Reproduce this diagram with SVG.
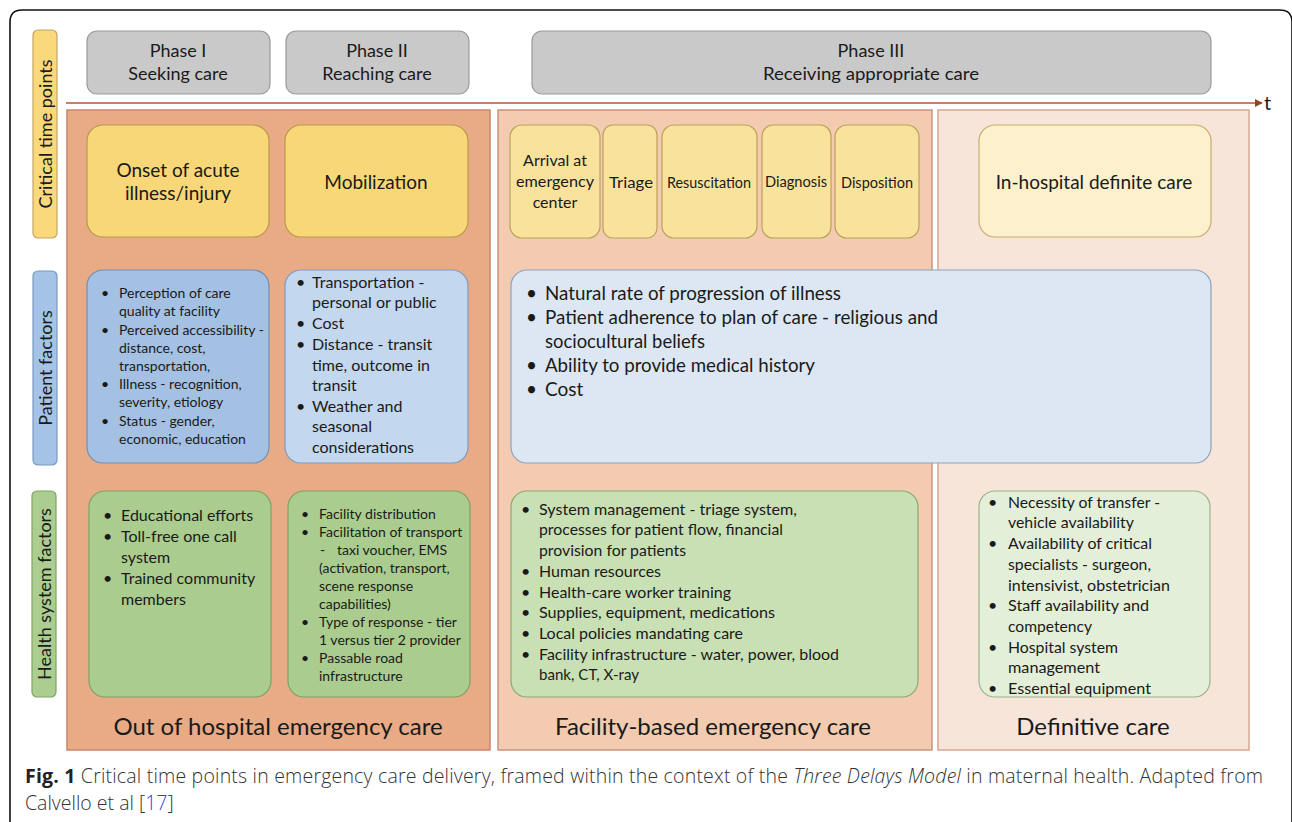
<svg xmlns="http://www.w3.org/2000/svg" width="1292" height="822" viewBox="0 0 1292 822">
  <style>
    .t { font-family: Lato, "Liberation Sans", sans-serif; fill: #1a1a1a; }
    .c { text-anchor: middle; }
    .phase { fill: #c9c9c9; stroke: #9a9a9a; stroke-width: 1.2; }
    .yel { fill: #f8d778; stroke: #b99a4a; stroke-width: 1.2; }
    .yel2 { fill: #f9e29c; stroke: #bca15a; stroke-width: 1.2; }
    .yel3 { fill: #fdf0cc; stroke: #c6ad6c; stroke-width: 1.2; }
    .blue1 { fill: #a4c1e3; stroke: #6f8fb5; stroke-width: 1.2; }
    .blue2 { fill: #c3d7ee; stroke: #7d9cc2; stroke-width: 1.2; }
    .blue3 { fill: #dce7f3; stroke: #8aa3c2; stroke-width: 1.2; }
    .grn1 { fill: #aacd8f; stroke: #7da264; stroke-width: 1.2; }
    .grn2 { fill: #c8e0b4; stroke: #88aa70; stroke-width: 1.2; }
    .grn3 { fill: #e3efd9; stroke: #9ab488; stroke-width: 1.2; }
    .cap { font-family: "Open Sans", "Liberation Sans", sans-serif; font-size: 19.5px; fill: #333; font-weight: 300; }
  </style>
  <defs>
    <marker id="arrow" viewBox="0 0 10 10" refX="9" refY="5" markerWidth="4" markerHeight="4" orient="auto">
      <path d="M0,0 L10,5 L0,10 z" fill="#8a4a2a"/>
    </marker>
  </defs>

  <rect width="1292" height="822" fill="#ffffff"/>
  <!-- figure frame -->
  <path d="M10,840 L10,22 Q10,10 22,10 L1280,10 Q1292,10 1292,22 L1292,840" fill="none" stroke="#111" stroke-width="1.6"/>

  <!-- column backgrounds -->
  <g id="col-out-of-hospital">
    <rect x="67" y="110" width="423" height="640" fill="#e9ab85" stroke="#c8876a" stroke-width="1.5"/>
    <text class="t c" x="278" y="735" font-size="24">Out of hospital emergency care</text>
  </g>
  <g id="col-facility">
    <rect x="498" y="110" width="434" height="640" fill="#f2cbb0" stroke="#c99478" stroke-width="1.5"/>
    <text class="t c" x="713" y="735" font-size="24">Facility-based emergency care</text>
  </g>
  <g id="col-definitive">
    <rect x="938" y="110" width="311" height="640" fill="#f8e5d9" stroke="#d4a88f" stroke-width="1.5"/>
    <text class="t c" x="1093" y="735" font-size="24">Definitive care</text>
  </g>

  <!-- row labels -->
  <g id="label-critical">
    <rect x="33" y="30" width="24" height="208" rx="5" fill="#f9d97b" stroke="#c4a560" stroke-width="1.2"/>
    <text class="t c" transform="translate(52,134) rotate(-90)" font-size="18">Critical time points</text>
  </g>
  <g id="label-patient">
    <rect x="33" y="271" width="24" height="194" rx="5" fill="#a5c3e6" stroke="#7898c0" stroke-width="1.2"/>
    <text class="t c" transform="translate(52,368) rotate(-90)" font-size="18">Patient factors</text>
  </g>
  <g id="label-health">
    <rect x="32" y="491" width="24" height="206" rx="5" fill="#abcd8f" stroke="#7fa566" stroke-width="1.2"/>
    <text class="t c" transform="translate(51,594) rotate(-90)" font-size="18">Health system factors</text>
  </g>

  <!-- phases -->
  <g id="phase-1">
    <rect class="phase" x="87" y="31" width="183" height="63" rx="10"/>
    <text class="t c" x="178" y="57" font-size="18">Phase I</text>
    <text class="t c" x="178" y="80" font-size="18">Seeking care</text>
  </g>
  <g id="phase-2">
    <rect class="phase" x="286" y="31" width="183" height="63" rx="10"/>
    <text class="t c" x="377" y="57" font-size="18">Phase II</text>
    <text class="t c" x="377" y="80" font-size="18">Reaching care</text>
  </g>
  <g id="phase-3">
    <rect class="phase" x="532" y="31" width="679" height="63" rx="10"/>
    <text class="t c" x="871" y="57" font-size="18">Phase III</text>
    <text class="t c" x="871" y="80" font-size="18" textLength="216" lengthAdjust="spacingAndGlyphs">Receiving appropriate care</text>
  </g>

  <!-- time axis -->
  <g id="connectors">
    <line x1="66" y1="103" x2="1262" y2="103" stroke="#c9805e" stroke-width="2" marker-end="url(#arrow)"/>
  </g>
  <text class="t" x="1264" y="110" font-size="20">t</text>

  <!-- critical time points -->
  <g id="onset">
    <rect class="yel" x="87" y="125" width="182" height="112" rx="16"/>
    <text class="t c" x="178" y="177" font-size="19">Onset of acute</text>
    <text class="t c" x="178" y="200" font-size="19">illness/injury</text>
  </g>
  <g id="mobilization">
    <rect class="yel" x="285" y="125" width="183" height="112" rx="16"/>
    <text class="t c" x="376" y="189" font-size="19">Mobilization</text>
  </g>
  <g id="arrival">
    <rect class="yel2" x="510" y="125" width="90" height="113" rx="12"/>
    <text class="t c" x="555" y="166" font-size="16">Arrival at</text>
    <text class="t c" x="555" y="187" font-size="16" textLength="78" lengthAdjust="spacingAndGlyphs">emergency</text>
    <text class="t c" x="555" y="208" font-size="16">center</text>
  </g>
  <g id="triage">
    <rect class="yel2" x="603" y="125" width="54" height="113" rx="10"/>
    <text class="t c" x="631" y="188" font-size="15.5" textLength="44" lengthAdjust="spacingAndGlyphs">Triage</text>
  </g>
  <g id="resuscitation">
    <rect class="yel2" x="662" y="125" width="95" height="113" rx="12"/>
    <text class="t c" x="709" y="188" font-size="15.5" textLength="84" lengthAdjust="spacingAndGlyphs">Resuscitation</text>
  </g>
  <g id="diagnosis">
    <rect class="yel2" x="762" y="125" width="69" height="113" rx="11"/>
    <text class="t c" x="796" y="187" font-size="15.5" textLength="62" lengthAdjust="spacingAndGlyphs">Diagnosis</text>
  </g>
  <g id="disposition">
    <rect class="yel2" x="835" y="125" width="84" height="113" rx="12"/>
    <text class="t c" x="877" y="188" font-size="15.5" textLength="72" lengthAdjust="spacingAndGlyphs">Disposition</text>
  </g>
  <g id="in-hospital">
    <rect class="yel3" x="979" y="125" width="232" height="112" rx="16"/>
    <text class="t c" x="1094" y="189" font-size="19">In-hospital definite care</text>
  </g>

  <!-- patient factors -->
  <g id="patient-seeking" font-size="14">
    <rect class="blue1" x="87" y="270" width="182" height="193" rx="16"/>
    <g class="t">
      <text x="101" y="298">•</text><text x="119" y="298">Perception of care</text>
      <text x="119" y="316">quality at facility</text>
      <text x="101" y="335">•</text><text x="119" y="335">Perceived accessibility -</text>
      <text x="119" y="353">distance, cost,</text>
      <text x="119" y="371">transportation,</text>
      <text x="101" y="389">•</text><text x="119" y="389">Illness - recognition,</text>
      <text x="119" y="407">severity, etiology</text>
      <text x="101" y="426">•</text><text x="119" y="426">Status - gender,</text>
      <text x="119" y="444">economic, education</text>
    </g>
  </g>
  <g id="patient-reaching" font-size="16">
    <rect class="blue2" x="285" y="270" width="183" height="193" rx="16"/>
    <g class="t">
      <text x="296" y="288">•</text><text x="312" y="288">Transportation -</text>
      <text x="312" y="308">personal or public</text>
      <text x="296" y="329">•</text><text x="312" y="329">Cost</text>
      <text x="296" y="350">•</text><text x="312" y="350">Distance - transit</text>
      <text x="312" y="371">time, outcome in</text>
      <text x="312" y="391">transit</text>
      <text x="296" y="412">•</text><text x="312" y="412">Weather and</text>
      <text x="312" y="432">seasonal</text>
      <text x="312" y="453">considerations</text>
    </g>
  </g>
  <g id="patient-receiving" font-size="19">
    <rect class="blue3" x="511" y="270" width="700" height="193" rx="16"/>
    <g class="t">
      <text x="526" y="300">•</text><text x="545" y="300" textLength="296" lengthAdjust="spacingAndGlyphs">Natural rate of progression of illness</text>
      <text x="526" y="324">•</text><text x="545" y="324" textLength="393" lengthAdjust="spacingAndGlyphs">Patient adherence to plan of care - religious and</text>
      <text x="545" y="348" textLength="160" lengthAdjust="spacingAndGlyphs">sociocultural beliefs</text>
      <text x="526" y="372">•</text><text x="545" y="372" textLength="270" lengthAdjust="spacingAndGlyphs">Ability to provide medical history</text>
      <text x="526" y="396">•</text><text x="545" y="396">Cost</text>
    </g>
  </g>

  <!-- health system factors -->
  <g id="health-seeking" font-size="16">
    <rect class="grn1" x="89" y="491" width="182" height="206" rx="16"/>
    <g class="t">
      <text x="103" y="521">•</text><text x="121" y="521">Educational efforts</text>
      <text x="103" y="542">•</text><text x="121" y="542">Toll-free one call</text>
      <text x="121" y="563">system</text>
      <text x="103" y="584">•</text><text x="121" y="584">Trained community</text>
      <text x="121" y="605">members</text>
    </g>
  </g>
  <g id="health-reaching" font-size="14">
    <rect class="grn1" x="288" y="491" width="182" height="206" rx="16"/>
    <g class="t">
      <text x="301" y="519">•</text><text x="319" y="519">Facility distribution</text>
      <text x="301" y="537">•</text><text x="319" y="537">Facilitation of transport</text>
      <text x="320" y="555">-</text><text x="337" y="555">taxi voucher, EMS</text>
      <text x="319" y="573">(activation, transport,</text>
      <text x="319" y="591">scene response</text>
      <text x="319" y="609">capabilities)</text>
      <text x="301" y="627">•</text><text x="319" y="627">Type of response - tier</text>
      <text x="319" y="645">1 versus tier 2 provider</text>
      <text x="301" y="663">•</text><text x="319" y="663">Passable road</text>
      <text x="319" y="681">infrastructure</text>
    </g>
  </g>
  <g id="health-receiving" font-size="16">
    <rect class="grn2" x="511" y="491" width="407" height="206" rx="16"/>
    <g class="t">
      <text x="521" y="515">•</text><text x="539" y="515" textLength="258" lengthAdjust="spacingAndGlyphs">System management - triage system,</text>
      <text x="539" y="535" textLength="244" lengthAdjust="spacingAndGlyphs">processes for patient flow, financial</text>
      <text x="539" y="556" textLength="147" lengthAdjust="spacingAndGlyphs">provision for patients</text>
      <text x="521" y="577">•</text><text x="539" y="577" textLength="122" lengthAdjust="spacingAndGlyphs">Human resources</text>
      <text x="521" y="598">•</text><text x="539" y="598" textLength="192" lengthAdjust="spacingAndGlyphs">Health-care worker training</text>
      <text x="521" y="618">•</text><text x="539" y="618" textLength="236" lengthAdjust="spacingAndGlyphs">Supplies, equipment, medications</text>
      <text x="521" y="639">•</text><text x="539" y="639" textLength="204" lengthAdjust="spacingAndGlyphs">Local policies mandating care</text>
      <text x="521" y="660">•</text><text x="539" y="660" textLength="300" lengthAdjust="spacingAndGlyphs">Facility infrastructure - water, power, blood</text>
      <text x="539" y="680" textLength="100" lengthAdjust="spacingAndGlyphs">bank, CT, X-ray</text>
    </g>
  </g>
  <g id="health-definitive" font-size="16">
    <rect class="grn3" x="979" y="491" width="231" height="206" rx="16"/>
    <g class="t">
      <text x="988" y="508">•</text><text x="1008" y="508" textLength="152" lengthAdjust="spacingAndGlyphs">Necessity of transfer -</text>
      <text x="1008" y="528" textLength="126" lengthAdjust="spacingAndGlyphs">vehicle availability</text>
      <text x="988" y="549">•</text><text x="1008" y="549" textLength="144" lengthAdjust="spacingAndGlyphs">Availability of critical</text>
      <text x="1008" y="570" textLength="143" lengthAdjust="spacingAndGlyphs">specialists - surgeon,</text>
      <text x="1008" y="591" textLength="162" lengthAdjust="spacingAndGlyphs">intensivist, obstetrician</text>
      <text x="988" y="611">•</text><text x="1008" y="611" textLength="141" lengthAdjust="spacingAndGlyphs">Staff availability and</text>
      <text x="1008" y="632" textLength="84" lengthAdjust="spacingAndGlyphs">competency</text>
      <text x="988" y="653">•</text><text x="1008" y="653" textLength="110" lengthAdjust="spacingAndGlyphs">Hospital system</text>
      <text x="1008" y="673" textLength="92" lengthAdjust="spacingAndGlyphs">management</text>
      <text x="988" y="694">•</text><text x="1008" y="694" textLength="143" lengthAdjust="spacingAndGlyphs">Essential equipment</text>
    </g>
  </g>

  <!-- caption -->
  <text class="cap" x="25" y="783" textLength="1238" lengthAdjust="spacing"><tspan font-weight="700" fill="#222">Fig. 1</tspan> Critical time points in emergency care delivery, framed within the context of the <tspan font-style="italic">Three Delays Model</tspan> in maternal health. Adapted from</text>
  <text class="cap" x="25" y="810">Calvello et al [<tspan fill="#3a3ad6">17</tspan>]</text>
</svg>
